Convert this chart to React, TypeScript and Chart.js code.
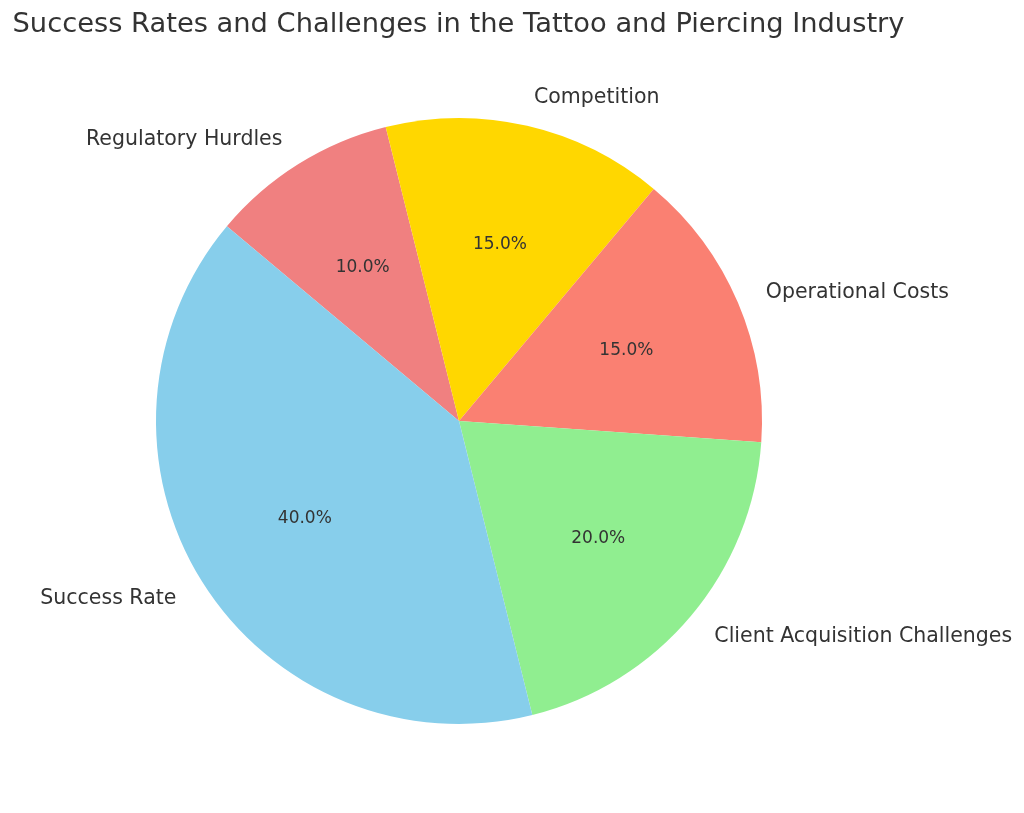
import { useRef, useEffect } from 'react';
import Chart from 'chart.js/auto';

// matplotlib pie goes counter-clockwise from 140deg; Chart.js goes clockwise,
// so the slices are listed in reverse order here
const labels = ['Regulatory Hurdles', 'Competition', 'Operational Costs', 'Client Acquisition Challenges', 'Success Rate'];
const shares = [10, 15, 15, 20, 40];
const colors = ['#F08080', '#FFD700', '#FA8072', '#90EE90', '#87CEEB'];

const TITLE = 'Success Rates and Challenges in the Tattoo and Piercing Industry';
const FONT = '"DejaVu Sans", sans-serif';
const TEXT = '#333333';

const pieText = {
  id: 'pieText',
  afterDraw(chart) {
    const ctx = chart.ctx;
    const meta = chart.getDatasetMeta(0);
    const total = shares.reduce((a, b) => a + b, 0);
    ctx.save();
    ctx.fillStyle = TEXT;

    ctx.font = `27.3px ${FONT}`;
    ctx.textAlign = 'center';
    ctx.textBaseline = 'middle';
    const first = meta.data[0];
    ctx.fillText(TITLE, first.x - 0.5, 25);

    meta.data.forEach((arc, i) => {
      const mid = (arc.startAngle + arc.endAngle) / 2;
      const r = arc.outerRadius;
      const cx = Math.cos(mid);
      const cy = Math.sin(mid);

      ctx.font = `20.5px ${FONT}`;
      ctx.textAlign = cx >= 0 ? 'left' : 'right';
      ctx.fillText(labels[i], arc.x + cx * r * 1.1, arc.y + cy * r * 1.1 + 1.5);

      ctx.font = `17px ${FONT}`;
      ctx.textAlign = 'center';
      const pct = ((shares[i] / total) * 100).toFixed(1) + '%';
      ctx.fillText(pct, arc.x + cx * r * 0.6, arc.y + cy * r * 0.6 + 1);
    });
    ctx.restore();
  },
};

const Pie = () => {
  const canvasRef = useRef(null);

  useEffect(() => {
    if (!canvasRef.current) return;

    const chart = new Chart(canvasRef.current, {
      type: 'pie',
      data: {
        labels: labels,
        datasets: [{
          data: shares,
          backgroundColor: colors,
          borderWidth: 0,
        }],
      },
      options: {
        responsive: false,
        animation: false,
        rotation: -50,
        layout: { padding: { left: 156, right: 262, top: 118, bottom: 89 } },
        plugins: {
          legend: { display: false },
          title: { display: false },
          tooltip: { enabled: false },
        },
      },
      plugins: [pieText],
    });

    return () => chart.destroy();
  }, []);

  return <canvas ref={canvasRef} width={1024} height={813} />;
};

export default function App() {
  useEffect(() => {
    document.body.style.margin = '0';
  }, []);
  return (
    <div style={{ width: 1024, height: 813, background: '#fff' }}>
      <Pie />
    </div>
  );
}
